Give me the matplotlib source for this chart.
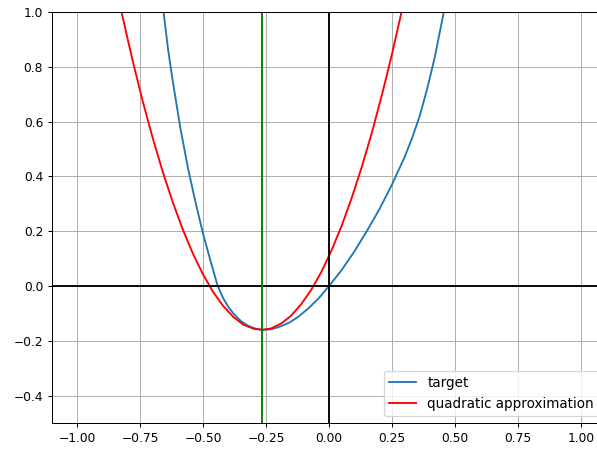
import matplotlib
matplotlib.use("Agg")
import matplotlib.pyplot as plt

# target curve
target_x = [-0.657, -0.64, -0.62, -0.59, -0.56, -0.53, -0.50, -0.47, -0.442,
            -0.42, -0.40, -0.38, -0.35, -0.32, -0.29, -0.26, -0.23, -0.20,
            -0.16, -0.12, -0.08, -0.04, 0.0, 0.05, 0.10, 0.15, 0.20, 0.25,
            0.30, 0.33, 0.36, 0.39, 0.42, 0.456]
target_y = [1.0, 0.87, 0.745, 0.575, 0.43, 0.305, 0.19, 0.09, 0.0,
            -0.045, -0.076, -0.10, -0.128, -0.146, -0.156, -0.16, -0.158, -0.15,
            -0.135, -0.111, -0.08, -0.044, 0.0, 0.058, 0.125, 0.20, 0.28, 0.37,
            0.47, 0.54, 0.62, 0.72, 0.835, 1.0]

# quadratic approximation around the green point
quad_x = [-0.83, -0.78, -0.74, -0.70, -0.66, -0.62, -0.58, -0.54, -0.50, -0.46,
          -0.42, -0.38, -0.34, -0.30, -0.268, -0.23, -0.19, -0.15, -0.11, -0.07,
          -0.03, 0.01, 0.05, 0.09, 0.13, 0.17, 0.21, 0.25, 0.29]
quad_y = [1.024, 0.823, 0.675, 0.540, 0.416, 0.305, 0.205, 0.117, 0.042, -0.022,
          -0.073, -0.113, -0.141, -0.156, -0.16, -0.155, -0.137, -0.108, -0.066, -0.013,
          0.052, 0.130, 0.219, 0.321, 0.434, 0.559, 0.697, 0.846, 1.008]

x0 = -0.266  # expansion point (green line)

fig = plt.figure(figsize=(597 / 90, 449 / 90), dpi=90)
ax = fig.add_axes([0.0871, 0.0579, 0.928, 0.9154])

ax.plot(target_x, target_y, label="target")
ax.plot(quad_x, quad_y, "r", label="quadratic approximation")
ax.axhline(0, color="k")
ax.axvline(0, color="k")
ax.axvline(x0, color="g")

ax.set_xlim(-1.1, 1.1)
ax.set_ylim(-0.5, 1.0)
ax.tick_params(labelsize=9.8)
ax.grid(True)
ax.legend(loc="lower right", fontsize=10.8)

fig.savefig("out.png", dpi=90)
